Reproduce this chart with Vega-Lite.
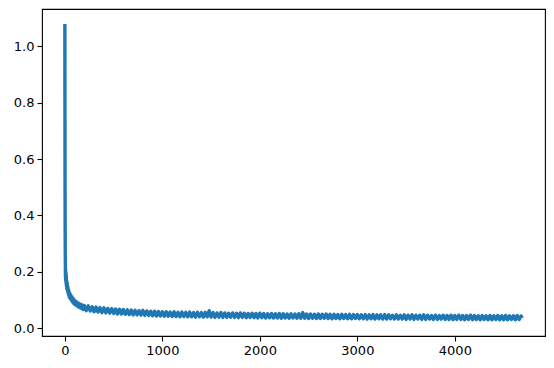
{
"$schema": "https://vega.github.io/schema/vega-lite/v6.json",
"width": 503, "height": 327,
"autosize": {"type": "none"},
"padding": {"left": 42, "top": 9, "right": 9, "bottom": 32},
"background": "white",
"config": {
  "view": {"stroke": "black", "strokeWidth": 1.1},
  "axis": {"domain": false, "grid": false, "ticks": true, "tickSize": 5, "tickWidth": 1.1, "tickColor": "black",
           "labelFont": "DejaVu Sans", "labelFontSize": 13, "labelColor": "black", "title": null}
},
"data": {"values": [
{"step":0,"loss":1.08},{"step":1,"loss":0.75},{"step":2,"loss":0.5},{"step":3,"loss":0.35},{"step":4,"loss":0.27},{"step":5,"loss":0.24},{"step":6,"loss":0.18},{"step":7,"loss":0.21},{"step":8,"loss":0.17},{"step":10,"loss":0.2},{"step":12,"loss":0.16},{"step":14,"loss":0.19},{"step":16,"loss":0.15},{"step":18,"loss":0.17},{"step":20,"loss":0.14},{"step":24,"loss":0.16},{"step":28,"loss":0.13},{"step":32,"loss":0.145},{"step":36,"loss":0.12},{"step":40,"loss":0.135},{"step":45,"loss":0.11},{"step":50,"loss":0.125},{"step":55,"loss":0.105},{"step":60,"loss":0.118},{"step":66,"loss":0.1},{"step":72,"loss":0.112},{"step":78,"loss":0.093},{"step":84,"loss":0.106},{"step":90,"loss":0.088},{"step":96,"loss":0.1},{"step":102,"loss":0.084},{"step":110,"loss":0.096},{"step":118,"loss":0.08},{"step":126,"loss":0.092},{"step":134,"loss":0.076},{"step":142,"loss":0.088},{"step":150,"loss":0.073},{"step":160,"loss":0.085},{"step":170,"loss":0.07},{"step":180,"loss":0.082},{"step":190,"loss":0.066},
{"step":200,"loss":0.080},{"step":220,"loss":0.062},{"step":240,"loss":0.079},{"step":260,"loss":0.061},{"step":280,"loss":0.076},{"step":300,"loss":0.058},{"step":320,"loss":0.075},{"step":340,"loss":0.057},{"step":360,"loss":0.073},{"step":380,"loss":0.055},{"step":400,"loss":0.072},{"step":420,"loss":0.054},{"step":440,"loss":0.070},{"step":460,"loss":0.053},{"step":480,"loss":0.069},{"step":500,"loss":0.052},{"step":520,"loss":0.068},{"step":540,"loss":0.050},{"step":560,"loss":0.067},{"step":580,"loss":0.050},{"step":600,"loss":0.066},{"step":620,"loss":0.049},{"step":640,"loss":0.065},{"step":660,"loss":0.048},{"step":680,"loss":0.064},{"step":700,"loss":0.047},{"step":720,"loss":0.063},{"step":740,"loss":0.047},{"step":760,"loss":0.062},{"step":780,"loss":0.046},{"step":800,"loss":0.063},{"step":820,"loss":0.045},{"step":840,"loss":0.061},{"step":860,"loss":0.045},{"step":880,"loss":0.060},{"step":900,"loss":0.044},{"step":920,"loss":0.060},{"step":940,"loss":0.043},{"step":960,"loss":0.059},{"step":980,"loss":0.043},{"step":1000,"loss":0.058},{"step":1020,"loss":0.042},
{"step":1040,"loss":0.058},{"step":1060,"loss":0.042},{"step":1080,"loss":0.057},{"step":1100,"loss":0.041},{"step":1120,"loss":0.058},{"step":1140,"loss":0.041},{"step":1160,"loss":0.056},{"step":1180,"loss":0.040},{"step":1200,"loss":0.057},{"step":1220,"loss":0.041},{"step":1240,"loss":0.056},{"step":1260,"loss":0.040},{"step":1280,"loss":0.057},{"step":1300,"loss":0.040},{"step":1320,"loss":0.055},{"step":1340,"loss":0.039},{"step":1360,"loss":0.056},{"step":1380,"loss":0.040},{"step":1400,"loss":0.055},{"step":1420,"loss":0.039},{"step":1440,"loss":0.056},{"step":1460,"loss":0.040},{"step":1480,"loss":0.062},{"step":1500,"loss":0.039},{"step":1520,"loss":0.055},{"step":1540,"loss":0.038},{"step":1560,"loss":0.054},{"step":1580,"loss":0.039},{"step":1600,"loss":0.055},{"step":1620,"loss":0.038},{"step":1640,"loss":0.054},{"step":1660,"loss":0.038},{"step":1680,"loss":0.053},{"step":1700,"loss":0.039},{"step":1720,"loss":0.054},{"step":1740,"loss":0.038},{"step":1760,"loss":0.053},{"step":1780,"loss":0.037},{"step":1800,"loss":0.054},{"step":1820,"loss":0.038},{"step":1840,"loss":0.053},{"step":1860,"loss":0.037},{"step":1880,"loss":0.052},{"step":1900,"loss":0.038},{"step":1920,"loss":0.053},{"step":1940,"loss":0.037},{"step":1960,"loss":0.052},{"step":1980,"loss":0.036},
{"step":2000,"loss":0.053},{"step":2020,"loss":0.037},{"step":2040,"loss":0.052},{"step":2060,"loss":0.036},{"step":2080,"loss":0.051},{"step":2100,"loss":0.037},{"step":2120,"loss":0.052},{"step":2140,"loss":0.036},{"step":2160,"loss":0.051},{"step":2180,"loss":0.036},{"step":2200,"loss":0.052},{"step":2220,"loss":0.035},{"step":2240,"loss":0.051},{"step":2260,"loss":0.036},{"step":2280,"loss":0.050},{"step":2300,"loss":0.035},{"step":2320,"loss":0.051},{"step":2340,"loss":0.036},{"step":2360,"loss":0.050},{"step":2380,"loss":0.035},{"step":2400,"loss":0.051},{"step":2420,"loss":0.035},{"step":2440,"loss":0.055},{"step":2460,"loss":0.035},{"step":2480,"loss":0.050},{"step":2500,"loss":0.034},{"step":2520,"loss":0.050},{"step":2540,"loss":0.035},{"step":2560,"loss":0.049},{"step":2580,"loss":0.034},{"step":2600,"loss":0.050},{"step":2620,"loss":0.034},{"step":2640,"loss":0.049},{"step":2660,"loss":0.035},{"step":2680,"loss":0.050},{"step":2700,"loss":0.034},{"step":2720,"loss":0.049},{"step":2740,"loss":0.033},{"step":2760,"loss":0.049},{"step":2780,"loss":0.034},{"step":2800,"loss":0.048},{"step":2820,"loss":0.033},{"step":2840,"loss":0.049},{"step":2860,"loss":0.034},{"step":2880,"loss":0.048},{"step":2900,"loss":0.033},{"step":2920,"loss":0.049},{"step":2940,"loss":0.033},{"step":2960,"loss":0.048},{"step":2980,"loss":0.034},
{"step":3000,"loss":0.048},{"step":3020,"loss":0.033},{"step":3040,"loss":0.047},{"step":3060,"loss":0.033},{"step":3080,"loss":0.048},{"step":3100,"loss":0.032},{"step":3120,"loss":0.047},{"step":3140,"loss":0.033},{"step":3160,"loss":0.048},{"step":3180,"loss":0.032},{"step":3200,"loss":0.047},{"step":3220,"loss":0.033},{"step":3240,"loss":0.047},{"step":3260,"loss":0.032},{"step":3280,"loss":0.048},{"step":3300,"loss":0.032},{"step":3320,"loss":0.047},{"step":3340,"loss":0.033},{"step":3360,"loss":0.046},{"step":3380,"loss":0.032},{"step":3400,"loss":0.047},{"step":3420,"loss":0.032},{"step":3440,"loss":0.046},{"step":3460,"loss":0.032},{"step":3480,"loss":0.047},{"step":3500,"loss":0.031},{"step":3520,"loss":0.046},{"step":3540,"loss":0.032},{"step":3560,"loss":0.047},{"step":3580,"loss":0.031},{"step":3600,"loss":0.046},{"step":3620,"loss":0.032},{"step":3640,"loss":0.046},{"step":3660,"loss":0.031},{"step":3680,"loss":0.047},{"step":3700,"loss":0.031},{"step":3720,"loss":0.046},{"step":3740,"loss":0.032},{"step":3760,"loss":0.045},{"step":3780,"loss":0.031},{"step":3800,"loss":0.046},{"step":3820,"loss":0.031},{"step":3840,"loss":0.045},{"step":3860,"loss":0.032},{"step":3880,"loss":0.046},{"step":3900,"loss":0.031},{"step":3920,"loss":0.045},{"step":3940,"loss":0.031},{"step":3960,"loss":0.046},{"step":3980,"loss":0.030},
{"step":4000,"loss":0.045},{"step":4020,"loss":0.031},{"step":4040,"loss":0.046},{"step":4060,"loss":0.031},{"step":4080,"loss":0.045},{"step":4100,"loss":0.030},{"step":4120,"loss":0.045},{"step":4140,"loss":0.031},{"step":4160,"loss":0.046},{"step":4180,"loss":0.030},{"step":4200,"loss":0.045},{"step":4220,"loss":0.031},{"step":4240,"loss":0.044},{"step":4260,"loss":0.030},{"step":4280,"loss":0.045},{"step":4300,"loss":0.031},{"step":4320,"loss":0.044},{"step":4340,"loss":0.030},{"step":4360,"loss":0.045},{"step":4380,"loss":0.030},{"step":4400,"loss":0.044},{"step":4420,"loss":0.031},{"step":4440,"loss":0.045},{"step":4460,"loss":0.030},{"step":4480,"loss":0.044},{"step":4500,"loss":0.030},{"step":4520,"loss":0.045},{"step":4540,"loss":0.030},{"step":4560,"loss":0.044},{"step":4580,"loss":0.031},{"step":4600,"loss":0.044},{"step":4620,"loss":0.030},{"step":4640,"loss":0.045},{"step":4660,"loss":0.031},{"step":4680,"loss":0.043},{"step":4690,"loss":0.036}
]},
"mark": {"type": "line", "color": "#1f77b4", "strokeWidth": 3.4, "strokeJoin": "round", "clip": true},
"encoding": {
  "x": {"field": "step", "type": "quantitative",
        "scale": {"domain": [-234.5, 4924.5], "nice": false, "zero": false},
        "axis": {"values": [0, 1000, 2000, 3000, 4000], "format": "d", "labelPadding": 3}},
  "y": {"field": "loss", "type": "quantitative",
        "scale": {"domain": [-0.028, 1.133], "nice": false, "zero": false},
        "axis": {"values": [0, 0.2, 0.4, 0.6, 0.8, 1.0], "format": ".1f", "labelPadding": 3}}
}
}
